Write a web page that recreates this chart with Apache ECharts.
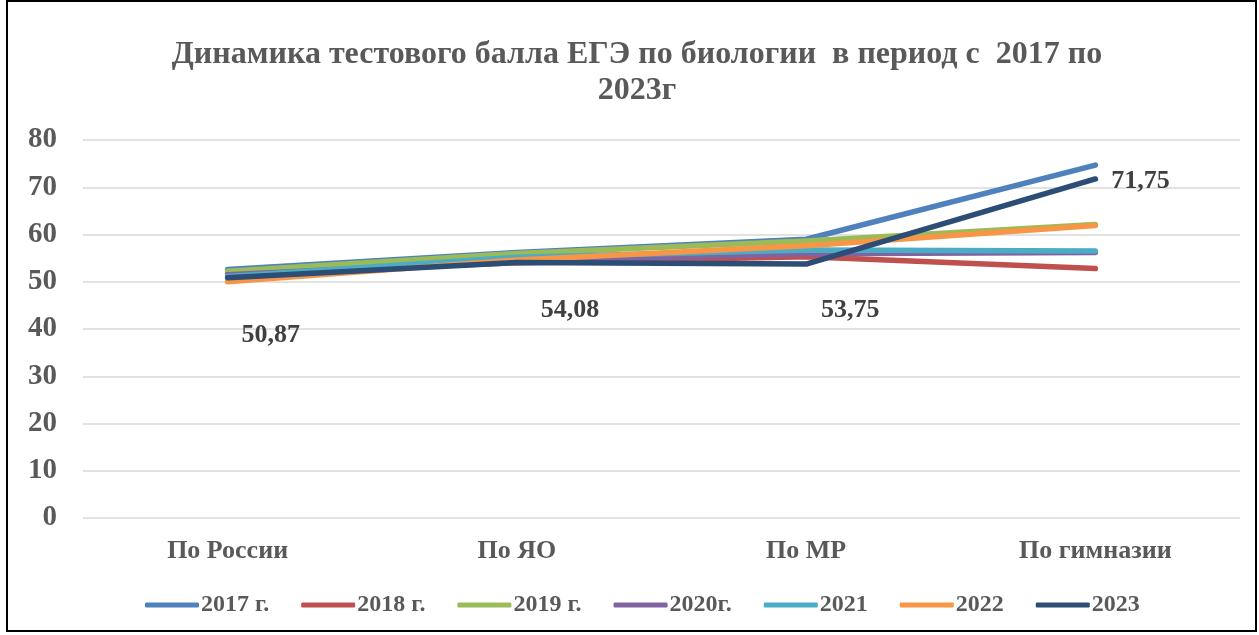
<!DOCTYPE html>
<html>
<head>
<meta charset="utf-8">
<script src="https://cdn.jsdelivr.net/npm/echarts@6/dist/echarts.min.js"></script>
<style>
  html, body { margin: 0; padding: 0; background: #fff; }
  .frame {
    position: absolute;
    left: 6px;
    top: 0;
    width: 1251px;
    height: 632px;
    border: 2px solid #000;
    box-sizing: border-box;
  }
  #chart { position: absolute; left: 0; top: 0; width: 1259px; height: 635px; }
</style>
</head>
<body>
<div id="chart"></div>
<div class="frame"></div>
<script>
const categories = ["По России", "По ЯО", "По МР", "По гимназии"];
const seriesNames = ["2017 г.", "2018 г.", "2019 г.", "2020г.", "2021", "2022", "2023"];
const v2017 = [52.6, 56.2, 59.0, 74.7];
const v2018 = [51.7, 54.0, 55.3, 52.8];
const v2019 = [52.2, 56.0, 58.6, 62.1];
const v2020 = [51.5, 54.4, 55.9, 56.2];
const v2021 = [51.1, 55.2, 56.7, 56.5];
const v2022 = [50.0, 54.6, 57.6, 61.9];
const v2023 = [50.87, 54.08, 53.75, 71.75];
const yTicks = { min: 0, max: 80, interval: 10 };

const values = [v2017, v2018, v2019, v2020, v2021, v2022, v2023];
const colors = ["#4F81BD", "#C0504D", "#9BBB59", "#8064A2", "#4BACC6", "#F79646", "#2C4D75"];
// where the 2023 labels sit relative to their points
const labelOffsets = [[43, 58], [53, 48], [44, 46], [45, 2]];

const chart = echarts.init(document.getElementById("chart"));

const series = values.map((vals, i) => {
  const isLast = i === values.length - 1;
  return {
    name: seriesNames[i],
    type: "line",
    symbol: isLast ? "circle" : "none",
    symbolSize: 0,
    showSymbol: isLast,
    data: vals.map((v, j) => {
      if (!isLast) return v;
      return {
        value: v,
        label: {
          show: true,
          position: "inside",
          offset: labelOffsets[j],
          formatter: () => String(v).replace(".", ","),
          fontFamily: "Liberation Serif",
          fontWeight: "bold",
          fontSize: 26,
          color: "#404040",
        },
      };
    }),
    lineStyle: { color: colors[i], width: 5.5, cap: "round", join: "round" },
    itemStyle: { color: colors[i] },
    emphasis: { disabled: true },
  };
});

const option = {
  animation: false,
  title: {
    text: "Динамика тестового балла ЕГЭ по биологии  в период с  2017 по\n2023г",
    left: 632,
    textAlign: "center",
    top: 32,
    textStyle: {
      fontFamily: "Liberation Serif",
      fontWeight: "bold",
      fontSize: 32,
      color: "#595959",
      lineHeight: 36,
    },
  },
  grid: {
    left: 83,
    right: 19,
    top: 140,
    bottom: 117,
  },
  legend: {
    bottom: 13,
    left: 140,
    itemWidth: 54,
    itemHeight: 5,
    itemGap: 32,
    icon: "roundRect",
    data: seriesNames,
    textStyle: {
      fontFamily: "Liberation Serif",
      fontWeight: "bold",
      fontSize: 24,
      color: "#595959",
      padding: [0, 0, 0, -3],
    },
  },
  xAxis: {
    type: "category",
    data: categories,
    boundaryGap: true,
    axisLine: { show: false },
    axisTick: { show: false },
    axisLabel: {
      margin: 20,
      fontFamily: "Liberation Serif",
      fontWeight: "bold",
      fontSize: 26,
      color: "#595959",
    },
  },
  yAxis: {
    type: "value",
    min: yTicks.min,
    max: yTicks.max,
    interval: yTicks.interval,
    axisLine: { show: false },
    axisTick: { show: false },
    splitLine: { lineStyle: { color: "#D9D9D9", width: 1.5 } },
    axisLabel: {
      margin: 26,
      fontFamily: "Liberation Serif",
      fontWeight: "bold",
      fontSize: 29,
      color: "#595959",
    },
  },
  series: series,
};

chart.setOption(option);
</script>
</body>
</html>
